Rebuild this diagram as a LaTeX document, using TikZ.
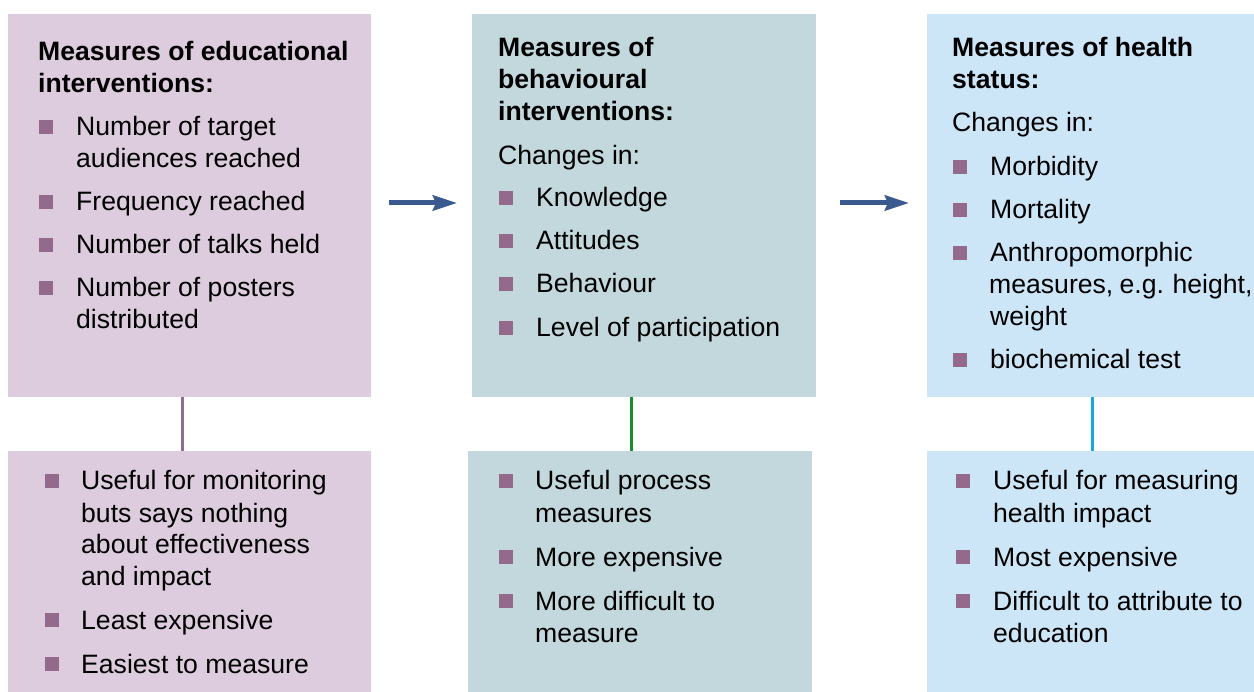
\documentclass[tikz,border=0pt]{standalone}
\usepackage{fontspec}
\setmainfont{Liberation Sans}
\usetikzlibrary{arrows.meta,calc}
\definecolor{cA}{HTML}{DCCCDD}
\definecolor{cB}{HTML}{C2D8DC}
\definecolor{cC}{HTML}{CCE6F7}
\definecolor{bulc}{HTML}{936A8C}
\definecolor{arrc}{HTML}{3A5A8F}
\definecolor{lA}{HTML}{946A8E}
\definecolor{lB}{HTML}{1E8C2A}
\definecolor{lC}{HTML}{1BA6E0}
\newcommand\mytxt[4]{\node[txt] (#1) at (#2,#3) {#4};}
\newcommand\myttl[4]{\node[ttl] (#1) at (#2,#3) {#4};}
\newcommand\mybul[3]{\node[bul] (#1) at (#2,#3-9) {};}
\begin{document}
\begin{tikzpicture}[x=1pt,y=-1pt,
  box/.style={anchor=north west, inner sep=0pt, outer sep=0pt, draw=none, minimum height=#1},
  txt/.style={anchor=base west, inner sep=0pt, font=\fontsize{26.6}{32}\selectfont},
  ttl/.style={txt, font=\fontsize{26.6}{32}\selectfont\bfseries},
  bul/.style={fill=bulc, inner sep=0pt, minimum width=14pt, minimum height=14pt},
  arr/.style={draw=arrc, line width=5pt, -{Stealth[length=24pt,width=15pt,inset=3pt]}},
  vline/.style={line width=3pt}
]
\useasboundingbox (0,0) rectangle (1254,692);
% boxes
\node[box=383pt, fill=cA, minimum width=363pt] (B1) at (8,14) {};
\node[box=383pt, fill=cB, minimum width=344pt] (B2) at (472,14) {};
\node[box=383pt, fill=cC, minimum width=327pt] (B3) at (927,14) {};
\node[box=241pt, fill=cA, minimum width=363pt] (B1b) at (8,451) {};
\node[box=241pt, fill=cB, minimum width=344pt] (B2b) at (468,451) {};
\node[box=241pt, fill=cC, minimum width=327pt] (B3b) at (927,451) {};
% connectors
\draw[vline, draw=lA] ([xshift=174pt]B1.south west) -- ([xshift=174pt]B1b.north west);
\draw[vline, draw=lB] ([xshift=159pt]B2.south west) -- ([xshift=163pt]B2b.north west);
\draw[vline, draw=lC] ([xshift=165pt]B3.south west) -- ([xshift=165pt]B3b.north west);
\draw[arr] ([xshift=18pt,yshift=2.5pt]B1.east) -- ([xshift=-15pt,yshift=2.5pt]B2.west);
\draw[arr] ([xshift=24pt,yshift=2.5pt]B2.east) -- ([xshift=-18pt,yshift=2.5pt]B3.west);
% box 1
\myttl{t1a}{38}{61}{Measures of educational}
\myttl{t1b}{38}{93}{interventions:}
\mybul{u1a}{46}{136}\mytxt{x1a}{76}{136}{Number of target}
\mytxt{x1a2}{76}{168}{audiences reached}
\mybul{u1b}{46}{211}\mytxt{x1b}{76}{211}{Frequency reached}
\mybul{u1c}{46}{254}\mytxt{x1c}{76}{254}{Number of talks held}
\mybul{u1d}{46}{297}\mytxt{x1d}{76}{297}{Number of posters}
\mytxt{x1d2}{76}{329}{distributed}
% box 2
\myttl{t2a}{498}{57}{Measures of}
\myttl{t2b}{498}{89}{behavioural}
\myttl{t2c}{498}{121}{interventions:}
\mytxt{c2}{498}{165}{Changes in:}
\mybul{u2a}{506}{207}\mytxt{x2a}{536}{207}{Knowledge}
\mybul{u2b}{506}{250}\mytxt{x2b}{536}{250}{Attitudes}
\mybul{u2c}{506}{293}\mytxt{x2c}{536}{293}{Behaviour}
\mybul{u2d}{506}{337}\mytxt{x2d}{536}{337}{Level of participation}
% box 3
\myttl{t3a}{952}{57}{Measures of health}
\myttl{t3b}{952}{89}{status:}
\mytxt{c3}{952}{132}{Changes in:}
\mybul{u3a}{960}{176}\mytxt{x3a}{990}{176}{Morbidity}
\mybul{u3b}{960}{219}\mytxt{x3b}{990}{219}{Mortality}
\mybul{u3c}{960}{262}\mytxt{x3c}{990}{262}{Anthropomorphic}
\mytxt{x3c2}{989}{294}{\spaceskip=6.2pt measures, e.g. height,}
\mytxt{x3c3}{990}{326}{weight}
\mybul{u3d}{960}{369}\mytxt{x3d}{990}{369}{biochemical test}
% bottom box 1
\mybul{v1a}{52}{490}\mytxt{y1a}{81}{490}{Useful for monitoring}
\mytxt{y1a2}{81}{522}{buts says nothing}
\mytxt{y1a3}{81}{554}{about effectiveness}
\mytxt{y1a4}{81}{586}{and impact}
\mybul{v1b}{52}{629}\mytxt{y1b}{81}{629}{Least expensive}
\mybul{v1c}{52}{673}\mytxt{y1c}{81}{673}{Easiest to measure}
% bottom box 2
\mybul{v2a}{506}{490}\mytxt{y2a}{535}{490}{Useful process}
\mytxt{y2a2}{535}{522}{measures}
\mybul{v2b}{506}{566}\mytxt{y2b}{535}{566}{More expensive}
\mybul{v2c}{506}{610}\mytxt{y2c}{535}{610}{More difficult to}
\mytxt{y2c2}{535}{642}{measure}
% bottom box 3
\mybul{v3a}{963}{490}\mytxt{y3a}{993}{490}{Useful for measuring}
\mytxt{y3a2}{993}{522}{health impact}
\mybul{v3b}{963}{566}\mytxt{y3b}{993}{566}{Most expensive}
\mybul{v3c}{963}{610}\mytxt{y3c}{993}{610}{Difficult to attribute to}
\mytxt{y3c2}{993}{642}{education}
\end{tikzpicture}
\end{document}
